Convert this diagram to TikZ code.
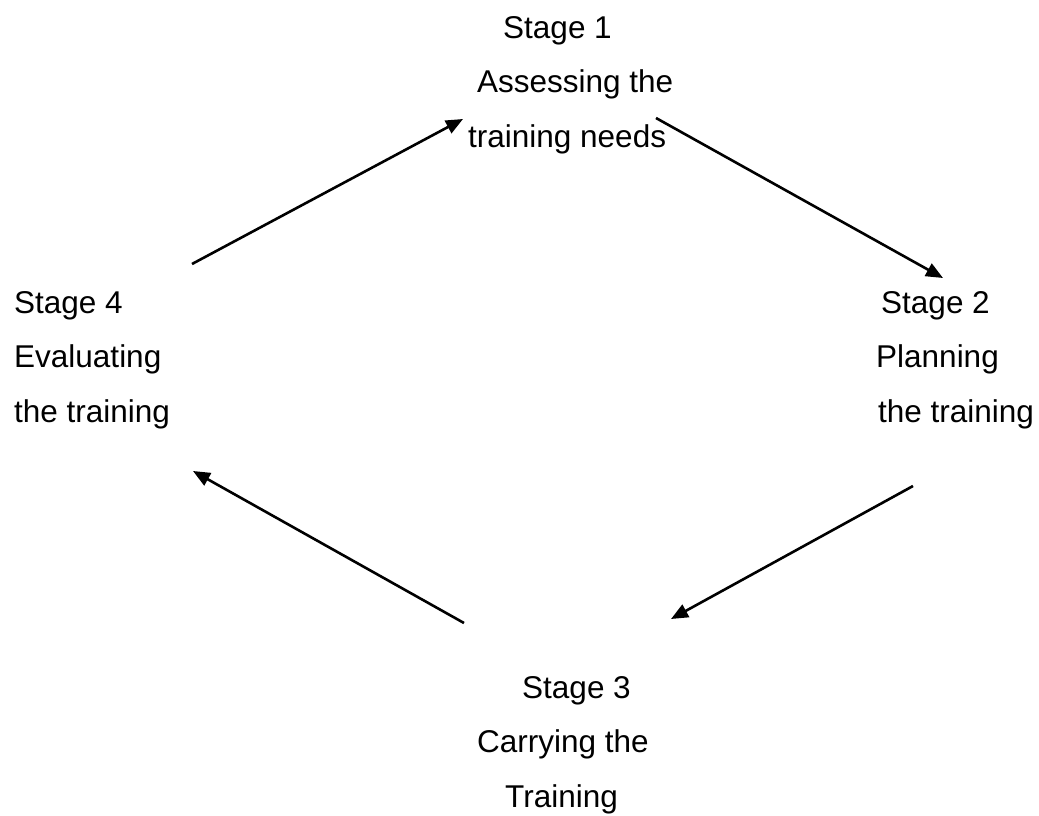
\documentclass[tikz,border=0pt]{standalone}
\usepackage{fontspec}
\setmainfont{Liberation Sans}
\usetikzlibrary{arrows.meta}

\begin{document}
\begin{tikzpicture}[x=1pt,y=-1pt,>={Triangle[length=17pt,width=14pt]},
        stage/.style={inner sep=0pt,anchor=base west,align=left,
            font=\fontsize{31.5}{54.5}\selectfont},
        link/.style={->,line width=2.6pt}]
    \useasboundingbox (0,0) rectangle (1039,816);
        \node[stage] (s1) at (468,147) {\hspace*{35pt}Stage 1\\\hspace*{9pt}Assessing the\\training needs};
        \node[stage] (s2) at (876,422) {\hspace*{5pt}Stage 2\\Planning\\\hspace*{2pt}the training};
        \node[stage] (s3) at (477,807) {\hspace*{45pt}Stage 3\\Carrying the\\\hspace*{28pt}Training};
        \node[stage] (s4) at (14,422) {Stage 4\\Evaluating\\the training};
        \coordinate (a1) at (192,264);
        \coordinate (b1) at (463,119);
        \coordinate (a2) at (656,118);
        \coordinate (b2) at (943,278);
        \coordinate (a3) at (913,486);
        \coordinate (b3) at (671,619);
        \coordinate (a4) at (464,623);
        \coordinate (b4) at (193,471);
        \draw[link] (a1) -- (b1);
        \draw[link] (a2) -- (b2);
        \draw[link] (a3) -- (b3);
        \draw[link] (a4) -- (b4);
    \end{tikzpicture}
\end{document}
